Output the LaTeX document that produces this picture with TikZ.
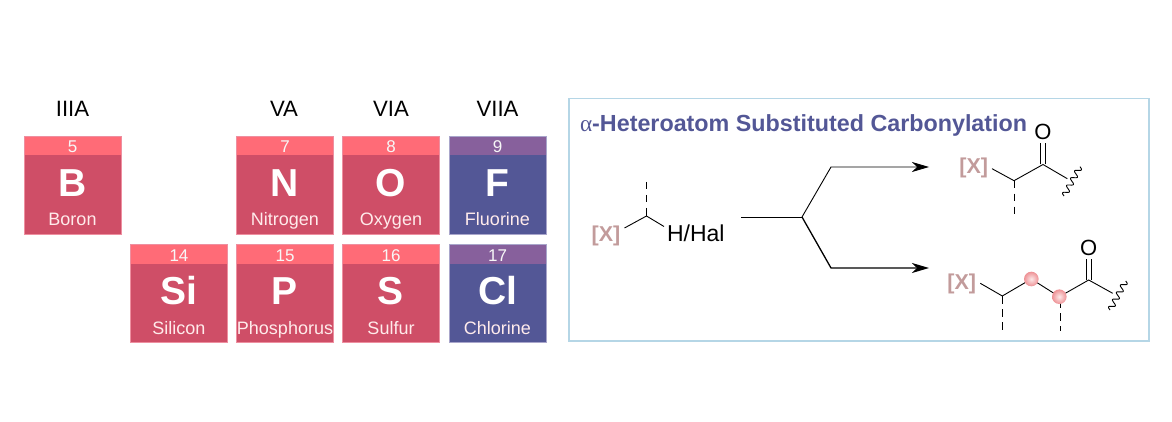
\documentclass[tikz,border=0pt]{standalone}
\usepackage{fontspec}
\setmainfont{Liberation Sans}
\newfontfamily\alphafont{Liberation Serif}
\usetikzlibrary{arrows.meta,calc}
\definecolor{redhead}{HTML}{FF6B77}
\definecolor{redbody}{HTML}{CF4E67}
\definecolor{redline}{HTML}{EE8FA0}
\definecolor{bluehead}{HTML}{87609C}
\definecolor{bluebody}{HTML}{535796}
\definecolor{blueline}{HTML}{A9A6CB}
\definecolor{framec}{HTML}{B5D6E6}
\definecolor{xcol}{HTML}{C29B9B}
\definecolor{ballin}{HTML}{FCE8E8}
\definecolor{ballout}{HTML}{EE9296}
\newcommand{\fs}[1]{\fontsize{#1}{#1}\selectfont}
\newcommand{\rowshift}{0}
\tikzset{
  x=1pt,y=-1pt,
  txt/.style={inner sep=0pt,outer sep=0pt,anchor=base},
  tilebody/.style={minimum width=97pt,minimum height=98pt,inner sep=0pt,outer sep=0pt,anchor=north west},
  grp/.style={txt,font=\fs{22.2}},
  num/.style={txt,text=white!97!black,font=\fs{17}},
  sym/.style={txt,text=white,font=\fs{39}\bfseries},
  elname/.style={txt,text=white!92!red,font=\fs{18}},
  xlab/.style={txt,text=xcol,font=\fs{21.5}\bfseries},
  atom/.style={txt,font=\fs{22}},
  bond/.style={line width=0.9pt,line join=miter},
  dashbond/.style={line width=0.9pt,dash pattern=on 7.5pt off 5.5pt},
  wavy/.style={line width=0.9pt,line join=round},
  schemeline/.style={line width=0.9pt},
  schemearrow/.style={-{Stealth[length=17pt,width=10pt,inset=5pt]}},
  ball/.style={circle,minimum size=14.6pt,inner sep=0pt,outer sep=0pt,inner color=ballin,outer color=ballout},
}
% \tile{name}{x}{y}{number}{symbol}{element}{line}{head}{body}
\newcommand{\tile}[9]{%
  \node[tilebody,fill=#9] (#1) at (#2,#3) {};
  \fill[#8] (#1.north west) rectangle ($(#1.north east)+(0,19.5)$);
  \draw[#7,line width=0.5pt] (#1.north west) rectangle (#1.south east);
  \node[num] (#1num) at (#2+48.5,#3+\rowshift+16.7) {#4};
  \node[sym] (#1sym) at (#2+48.5,#3+60.7) {#5};
  \node[elname] (#1name) at (#2+48.5,#3+\rowshift+89.7) {#6};
}
% wavy bond between two named coordinates (normal vector 0.878,0.479)
\newcommand{\squiggle}[2]{%
  \draw[wavy] (#1) foreach \i in {1,...,70} {
    -- ($(#1)!\i/70!(#2)+({2.8*0.878*sin(20.571*\i)},{2.8*0.479*sin(20.571*\i)})$)
  };
}
\begin{document}
\begin{tikzpicture}
\useasboundingbox (0,0) rectangle (1172,422);
% group labels
\node[grp] (g3) at (72.5,116.7) {IIIA};
\node[grp] (g5) at (284,116.7) {VA};
\node[grp] (g6) at (391,116.7) {VIA};
\node[grp] (g7) at (497.5,116.7) {VIIA};
% tiles
\tile{B}{24}{136}{5}{B}{Boron}{redline}{redhead}{redbody}
\tile{N}{236.5}{136}{7}{N}{Nitrogen}{redline}{redhead}{redbody}
\tile{O}{342.5}{136}{8}{O}{Oxygen}{redline}{redhead}{redbody}
\tile{F}{449}{136}{9}{F}{Fluorine}{blueline}{bluehead}{bluebody}
\renewcommand{\rowshift}{1.2}
\tile{Si}{130.5}{244}{14}{Si}{Silicon}{redline}{redhead}{redbody}
\tile{P}{236.5}{244}{15}{P}{Phosphorus}{redline}{redhead}{redbody}
\tile{S}{342.5}{244}{16}{S}{Sulfur}{redline}{redhead}{redbody}
\tile{Cl}{449}{244}{17}{Cl}{Chlorine}{blueline}{bluehead}{bluebody}
% frame
\node[draw=framec,line width=1.1pt,minimum width=580pt,minimum height=242.5pt,inner sep=0pt,outer sep=0pt,anchor=north west] (frame) at (569,98.5) {};
\node[txt,anchor=base west,text=bluebody,font=\fs{23.3}\bfseries] (title) at (580,131.5) {{\alphafont\mdseries α}-Heteroatom Substituted Carbonylation};
% substrate
\node[xlab] (sx) at (606,241.5) {[X]};
\node[atom,anchor=base west,font=\fs{23}] (sh) at (667,241.5) {H/Hal};
\coordinate (sc) at (646.5,216);
\coordinate (sxb) at (624.5,228);
\coordinate (shb) at (664,226.5);
\coordinate (sd) at (646.5,182);
\draw[bond] (sxb) -- (sc) -- (shb);
\draw[dashbond] (sd) -- (sc);
% scheme arrows
\coordinate (a0) at (741,217);
\coordinate (a1) at (802,217);
\coordinate (a2) at (831,167);
\coordinate (a3) at (929,167);
\coordinate (a4) at (831,268);
\coordinate (a5) at (929,268);
\draw[schemeline] (a0) -- (a1);
\draw[schemearrow,line width=0.9pt] (a1) -- (a2) -- (a3);
\draw[schemearrow,line width=1.3pt] (a1) -- (a4) -- (a5);
% top product
\node[xlab] (tx) at (973.7,174) {[X]};
\node[atom] (to) at (1043,140) {O};
\coordinate (t1) at (992,168.7);
\coordinate (t2) at (1014,180.7);
\coordinate (t3) at (1043,164.5);
\coordinate (t4) at (1067.3,178.7);
\coordinate (td) at (1014,216);
\coordinate (tw1) at (1080,166.7);
\coordinate (tw2) at (1064,196);
\draw[bond] (t1) -- (t2) -- (t3) -- (t4);
\draw[dashbond] (t2) -- (td);
\draw[bond] ($(t3)+(-2.7,0)$) -- ++(0,-21.5);
\draw[bond] ($(t3)+(2.7,0)$) -- ++(0,-21.5);
\squiggle{tw1}{tw2}
% bottom product
\node[xlab] (bx) at (961.7,289.5) {[X]};
\node[atom] (bo) at (1088.7,255) {O};
\coordinate (b1) at (980.3,283.3);
\coordinate (b2) at (1002.3,296);
\coordinate (b3) at (1031.3,279);
\coordinate (b4) at (1059.3,296.7);
\coordinate (b5) at (1088.7,280);
\coordinate (b6) at (1112.7,293.3);
\coordinate (bd1) at (1002.3,331);
\coordinate (bd2s) at (1060,300);
\coordinate (bd2) at (1060,331);
\coordinate (bw1) at (1125.7,281);
\coordinate (bw2) at (1110,310);
\draw[bond] (b1) -- (b2) -- (b3) -- (b4) -- (b5) -- (b6);
\draw[dashbond] (b2) -- (bd1);
\draw[dashbond] (bd2s) -- (bd2);
\draw[bond] ($(b5)+(-2.7,0)$) -- ++(0,-21.5);
\draw[bond] ($(b5)+(2.7,0)$) -- ++(0,-21.5);
\squiggle{bw1}{bw2}
\node[ball] (ball1) at (b3) {};
\node[ball] (ball2) at (b4) {};
\end{tikzpicture}
\end{document}
